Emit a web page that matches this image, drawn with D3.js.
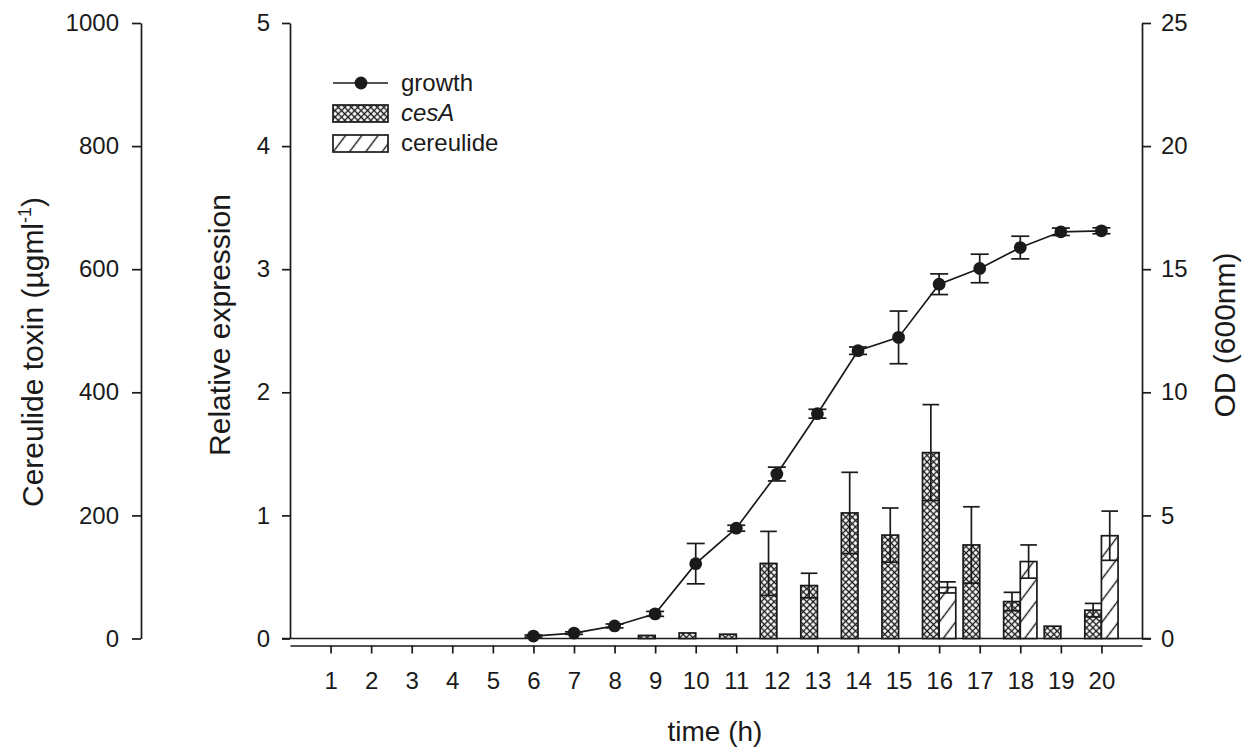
<!DOCTYPE html>
<html>
<head>
<meta charset="utf-8">
<script src="https://cdn.jsdelivr.net/npm/d3@7"></script>
<style>
  html, body { margin: 0; padding: 0; background: #fff; }
  svg { display: block; font-family: "Liberation Sans", Arial, sans-serif; }
</style>
</head>
<body>
<svg id="chart" width="1245" height="747"></svg>
<script>
// Sampling hours shown on the x axis
const hourTicks = [1, 2, 3, 4, 5, 6, 7, 8, 9, 10, 11, 12, 13, 14, 15, 16, 17, 18, 19, 20];

// Culture growth, OD at 600 nm (right axis)
const growthHours = [6, 7, 8, 9, 10, 11, 12, 13, 14, 15, 16, 17, 18, 19, 20];
const growthOD    = [0.10, 0.22, 0.51, 1.00, 3.04, 4.48, 6.68, 9.13, 11.69, 12.23, 14.39, 15.03, 15.88, 16.52, 16.56];
const growthErr   = [0.04, 0.05, 0.08, 0.10, 0.82, 0.12, 0.28, 0.18, 0.15, 1.07, 0.42, 0.58, 0.46, 0.15, 0.12];

// cesA relative expression (middle axis)
const cesAHours  = [9, 10, 11, 12, 13, 14, 15, 16, 17, 18, 19, 20];
const cesAValues = [0.025, 0.045, 0.035, 0.61, 0.43, 1.02, 0.84, 1.51, 0.76, 0.30, 0.10, 0.23];
const cesAErr    = [0.0, 0.01, 0.01, 0.26, 0.10, 0.33, 0.22, 0.39, 0.31, 0.075, 0.01, 0.055];

// Cereulide toxin concentration, µg/ml (far-left axis)
const cereulideHours  = [16, 18, 20];
const cereulideValues = [83, 125, 167];
const cereulideErr    = [9, 27, 40];

// Axis tick values
const toxinTicks = [0, 200, 400, 600, 800, 1000];
const exprTicks  = [0, 1, 2, 3, 4, 5];
const odTicks    = [0, 5, 10, 15, 20, 25];

const svg = d3.select("#chart");
const ink = "#1a1a1a";
const tickFont = 24;
const fmt = d3.format("d");

const plotLeft = 290, plotRight = 1142, plotTop = 23, plotBottom = 638.5;
const xAxisY = 645.5;

const x = d3.scaleLinear().domain([0, 21]).range([plotLeft, plotRight]);
const yExpr  = d3.scaleLinear().domain([0, 5]).range([plotBottom, plotTop]);
const yToxin = d3.scaleLinear().domain([0, 1000]).range([plotBottom, plotTop]);
const yOD    = d3.scaleLinear().domain([0, 25]).range([plotBottom, plotTop]);

const step = x(1) - x(0);
const barW = step * 0.41;

// Fill patterns: cross-hatch for cesA, diagonal hatch for cereulide
const defs = svg.append("defs");
const xs = 4.6;
const xh = defs.append("pattern").attr("id", "crossHatch")
  .attr("patternUnits", "userSpaceOnUse").attr("width", xs).attr("height", xs)
  .attr("patternTransform", "rotate(45)");
xh.append("rect").attr("width", xs).attr("height", xs).attr("fill", "#fff");
xh.append("path").attr("d", `M0,${xs / 2}H${xs}M${xs / 2},0V${xs}`)
  .attr("stroke", ink).attr("stroke-width", 1.3);

const dh = defs.append("pattern").attr("id", "diagHatch")
  .attr("patternUnits", "userSpaceOnUse").attr("width", 13).attr("height", 10)
  .attr("patternTransform", "rotate(37)");
dh.append("rect").attr("width", 13).attr("height", 10).attr("fill", "#fff");
dh.append("path").attr("d", "M6.5,0V10").attr("stroke", ink).attr("stroke-width", 1.4);

function styleAxis(g) {
  g.selectAll("path.domain").attr("stroke", ink).attr("stroke-width", 1.7);
  g.selectAll(".tick line").attr("stroke", ink).attr("stroke-width", 1.7);
  g.selectAll(".tick text").attr("fill", ink).attr("font-size", tickFont)
    .attr("font-family", "'Liberation Sans', Arial, sans-serif");
}

// Far-left toxin axis
svg.append("g").attr("transform", "translate(141,0)")
  .call(d3.axisLeft(yToxin).tickValues(toxinTicks).tickFormat(fmt)
    .tickSize(9).tickSizeOuter(0).tickPadding(13))
  .call(styleAxis);

// Relative expression axis
svg.append("g").attr("transform", `translate(${plotLeft},0)`)
  .call(d3.axisLeft(yExpr).tickValues(exprTicks).tickFormat(fmt)
    .tickSize(8).tickSizeOuter(0).tickPadding(12))
  .call(styleAxis);

// OD axis on the right
svg.append("g").attr("transform", `translate(${plotRight},0)`)
  .call(d3.axisRight(yOD).tickValues(odTicks).tickFormat(fmt)
    .tickSize(9).tickSizeOuter(0).tickPadding(10))
  .call(styleAxis);

// Baseline of the plot
svg.append("line")
  .attr("x1", plotLeft - 8).attr("x2", plotRight + 9)
  .attr("y1", plotBottom).attr("y2", plotBottom)
  .attr("stroke", ink).attr("stroke-width", 1.7);

// Time axis, set slightly below the baseline
svg.append("g").attr("transform", `translate(0,${xAxisY})`)
  .call(d3.axisBottom(x).tickValues(hourTicks).tickFormat(fmt)
    .tickSize(8).tickSizeOuter(0).tickPadding(18))
  .call(styleAxis);

const cesA = cesAHours.map((h, i) => ({ h, v: cesAValues[i], e: cesAErr[i] }));
const cer = cereulideHours.map((h, i) => ({ h, v: cereulideValues[i], e: cereulideErr[i] }));

// cesA bars sit left of each hour, cereulide bars to the right
svg.append("g").selectAll("rect").data(cesA).join("rect")
  .attr("x", d => x(d.h) - barW).attr("width", barW)
  .attr("y", d => yExpr(d.v)).attr("height", d => plotBottom - yExpr(d.v))
  .attr("fill", "url(#crossHatch)").attr("stroke", ink).attr("stroke-width", 1.7);

svg.append("g").selectAll("rect").data(cer).join("rect")
  .attr("x", d => x(d.h)).attr("width", barW)
  .attr("y", d => yToxin(d.v)).attr("height", d => plotBottom - yToxin(d.v))
  .attr("fill", "url(#diagHatch)").attr("stroke", ink).attr("stroke-width", 1.7);

function errorBars(g, data, cx, y, capW) {
  const eg = g.append("g").attr("stroke", ink).attr("stroke-width", 1.7).attr("fill", "none");
  data.filter(d => d.e > 0).forEach(d => {
    const c = cx(d), top = y(d.v + d.e), bot = y(Math.max(0, d.v - d.e));
    eg.append("line").attr("x1", c).attr("x2", c).attr("y1", top).attr("y2", bot);
    eg.append("line").attr("x1", c - capW / 2).attr("x2", c + capW / 2).attr("y1", top).attr("y2", top);
    eg.append("line").attr("x1", c - capW / 2).attr("x2", c + capW / 2).attr("y1", bot).attr("y2", bot);
  });
}

errorBars(svg, cesA.filter(d => d.e >= 0.05), d => x(d.h) - barW / 2, yExpr, barW);
errorBars(svg, cer, d => x(d.h) + barW / 2, yToxin, barW);

// Growth curve
const growth = growthHours.map((h, i) => ({ h, v: growthOD[i], e: growthErr[i] }));
svg.append("path").datum(growth)
  .attr("d", d3.line().x(d => x(d.h)).y(d => yOD(d.v)))
  .attr("fill", "none").attr("stroke", ink).attr("stroke-width", 1.7);
errorBars(svg, growth, d => x(d.h), yOD, 18);
svg.append("g").selectAll("circle").data(growth).join("circle")
  .attr("cx", d => x(d.h)).attr("cy", d => yOD(d.v)).attr("r", 6.4).attr("fill", ink);

// Legend
const lg = svg.append("g").attr("font-size", 24).attr("fill", ink);
lg.append("line").attr("x1", 333).attr("x2", 388).attr("y1", 83).attr("y2", 83)
  .attr("stroke", ink).attr("stroke-width", 1.7);
lg.append("circle").attr("cx", 361).attr("cy", 83).attr("r", 6.4).attr("fill", ink);
lg.append("text").attr("x", 401).attr("y", 91).text("growth");
lg.append("rect").attr("x", 333).attr("y", 105).attr("width", 55).attr("height", 17)
  .attr("fill", "url(#crossHatch)").attr("stroke", ink).attr("stroke-width", 1.7);
lg.append("text").attr("x", 401).attr("y", 121).attr("font-style", "italic").text("cesA");
lg.append("rect").attr("x", 333).attr("y", 135).attr("width", 55).attr("height", 17)
  .attr("fill", "url(#diagHatch)").attr("stroke", ink).attr("stroke-width", 1.7);
lg.append("text").attr("x", 401).attr("y", 151).text("cereulide");

// Axis titles
const sideFont = 30;
const toxinTitle = svg.append("text")
  .attr("transform", "translate(43,352) rotate(-90)")
  .attr("text-anchor", "middle").attr("font-size", sideFont).attr("fill", ink);
toxinTitle.append("tspan").text("Cereulide toxin (µgml");
toxinTitle.append("tspan").attr("font-size", 18).attr("dy", -12).text("-1");
toxinTitle.append("tspan").attr("dy", 12).text(")");

svg.append("text").attr("transform", "translate(230,325) rotate(-90)")
  .attr("text-anchor", "middle").attr("font-size", sideFont).attr("fill", ink)
  .text("Relative expression");

svg.append("text").attr("transform", "translate(1235,335) rotate(-90)")
  .attr("text-anchor", "middle").attr("font-size", sideFont).attr("fill", ink)
  .text("OD (600nm)");

svg.append("text").attr("x", 715).attr("y", 741)
  .attr("text-anchor", "middle").attr("font-size", 28).attr("fill", ink)
  .text("time (h)");
</script>
</body>
</html>
